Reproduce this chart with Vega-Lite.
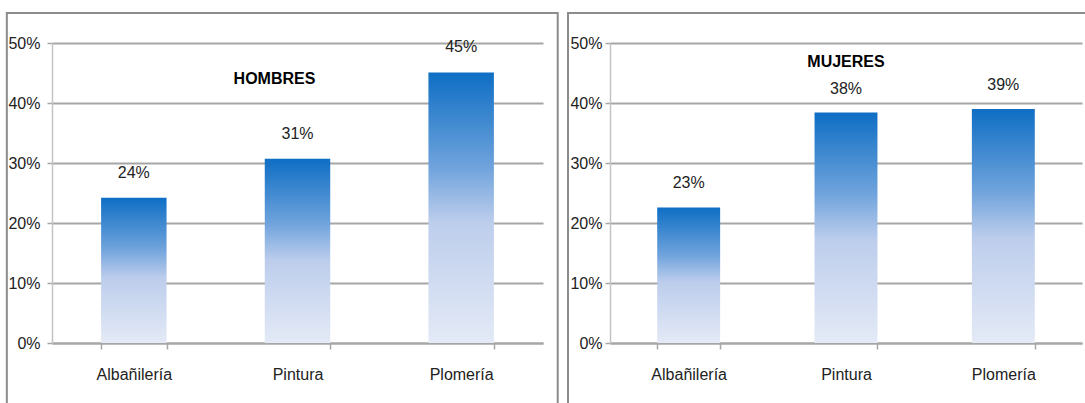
{
  "$schema": "https://vega.github.io/schema/vega-lite/v6.json",
  "background": "white",
  "padding": {"left": 5, "top": 11, "right": 0, "bottom": 0},
  "spacing": 7,
  "config": {
    "view": {"stroke": null},
    "font": "Liberation Sans, Arial, sans-serif",
    "axisY": {
      "grid": true,
      "gridColor": "#a6a6a6",
      "gridWidth": 2,
      "domainColor": "#c4c4c4",
      "domainWidth": 1.5,
      "tickColor": "#a6a6a6",
      "tickSize": 5,
      "tickWidth": 1.5,
      "labelFontSize": 16,
      "labelColor": "#222222",
      "labelPadding": 6,
      "title": null
    },
    "axisX": {
      "labelAngle": 0,
      "grid": false,
      "domainColor": "#a6a6a6",
      "domainWidth": 2,
      "tickColor": "#a6a6a6",
      "tickWidth": 1.5,
      "tickBand": "extent",
      "tickSize": 6,
      "labelFontSize": 16,
      "labelColor": "#222222",
      "labelPadding": 17,
      "title": null
    }
  },
  "datasets": {
    "hombres": [
      {"oficio": "Albañilería", "v": 0.242},
      {"oficio": "Pintura", "v": 0.307},
      {"oficio": "Plomería", "v": 0.451}
    ],
    "mujeres": [
      {"oficio": "Albañilería", "v": 0.226},
      {"oficio": "Pintura", "v": 0.384},
      {"oficio": "Plomería", "v": 0.39}
    ]
  },
  "hconcat": [
    {
      "width": 491,
      "height": 300,
      "resolve": {"scale": {"x": "independent"}},
      "layer": [
        {
          "data": {"values": [{}]},
          "mark": {"type": "rect", "filled": false, "stroke": "#8c8c8c", "strokeWidth": 2},
          "encoding": {
            "x": {"datum": -0.092, "type": "quantitative", "scale": {"domain": [0, 1]}, "axis": null},
            "x2": {"datum": 1.03},
            "y": {"datum": 0.55, "type": "quantitative", "title": null},
            "y2": {"datum": -0.13}
          }
        },
        {
          "data": {"name": "hombres"},
          "encoding": {
            "x": {"field": "oficio", "type": "nominal", "sort": null, "scale": {"paddingInner": 0.6, "paddingOuter": 0.3}},
            "y": {"field": "v", "type": "quantitative", "scale": {"domain": [0, 0.5], "nice": false},
                  "axis": {"values": [0, 0.1, 0.2, 0.3, 0.4, 0.5], "format": ".0%", "labelPadding": 7}}
          },
          "layer": [
            {
              "mark": {
                "type": "bar",
                "color": {
                  "gradient": "linear", "x1": 0, "y1": 0, "x2": 0, "y2": 1,
                  "stops": [
                    {"offset": 0, "color": "#0e6ec4"},
                    {"offset": 0.35, "color": "#6fa3dc"},
                    {"offset": 0.55, "color": "#bccdec"},
                    {"offset": 1, "color": "#e4eaf6"}
                  ]
                }
              }
            },
            {
              "mark": {"type": "text", "dy": -25, "fontSize": 16, "color": "#222222"},
              "encoding": {"text": {"field": "v", "type": "quantitative", "format": ".0%"}}
            },
            {
              "transform": [{"filter": "datum.oficio === 'Pintura'"}],
              "mark": {"type": "text", "fontSize": 16, "fontWeight": "bold", "dx": -23, "color": "#000000"},
              "encoding": {
                "y": {"datum": 0.44, "type": "quantitative"},
                "text": {"value": "HOMBRES"}
              }
            }
          ]
        }
      ]
    },
    {
      "width": 472,
      "height": 300,
      "resolve": {"scale": {"x": "independent"}},
      "layer": [
        {
          "data": {"values": [{}]},
          "mark": {"type": "rect", "filled": false, "stroke": "#8c8c8c", "strokeWidth": 2},
          "encoding": {
            "x": {"datum": -0.089, "type": "quantitative", "scale": {"domain": [0, 1]}, "axis": null},
            "x2": {"datum": 1.03},
            "y": {"datum": 0.55, "type": "quantitative", "title": null},
            "y2": {"datum": -0.13}
          }
        },
        {
          "data": {"name": "mujeres"},
          "encoding": {
            "x": {"field": "oficio", "type": "nominal", "sort": null, "scale": {"paddingInner": 0.6, "paddingOuter": 0.3}},
            "y": {"field": "v", "type": "quantitative", "scale": {"domain": [0, 0.5], "nice": false},
                  "axis": {"values": [0, 0.1, 0.2, 0.3, 0.4, 0.5], "format": ".0%", "labelPadding": 3}}
          },
          "layer": [
            {
              "mark": {
                "type": "bar",
                "color": {
                  "gradient": "linear", "x1": 0, "y1": 0, "x2": 0, "y2": 1,
                  "stops": [
                    {"offset": 0, "color": "#0e6ec4"},
                    {"offset": 0.35, "color": "#6fa3dc"},
                    {"offset": 0.55, "color": "#bccdec"},
                    {"offset": 1, "color": "#e4eaf6"}
                  ]
                }
              }
            },
            {
              "mark": {"type": "text", "dy": -24, "fontSize": 16, "color": "#222222"},
              "encoding": {"text": {"field": "v", "type": "quantitative", "format": ".0%"}}
            },
            {
              "transform": [{"filter": "datum.oficio === 'Pintura'"}],
              "mark": {"type": "text", "fontSize": 16, "fontWeight": "bold", "color": "#000000"},
              "encoding": {
                "y": {"datum": 0.468, "type": "quantitative"},
                "text": {"value": "MUJERES"}
              }
            }
          ]
        }
      ]
    }
  ]
}
